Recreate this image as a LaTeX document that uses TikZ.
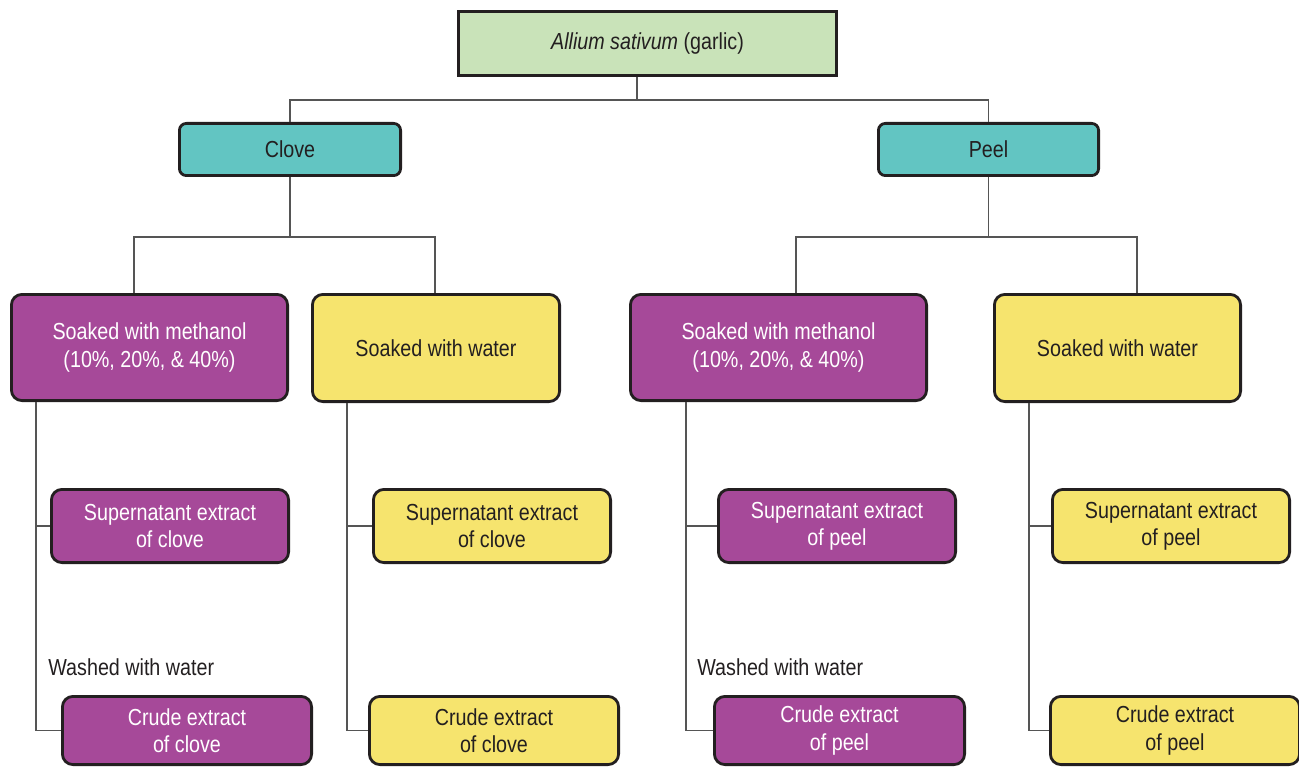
\documentclass[tikz,border=0pt]{standalone}
\usepackage{fontspec}
\setmainfont{Liberation Sans}[FakeStretch=0.85]
\definecolor{cgreen}{HTML}{C9E3B9}
\definecolor{cteal}{HTML}{62C5C2}
\definecolor{cpurple}{HTML}{A64999}
\definecolor{cyellow}{HTML}{F6E46E}
\definecolor{cedge}{HTML}{231F20}
\definecolor{cline}{HTML}{555555}
\tikzset{
  base/.style={draw=cedge, line width=1.6pt, align=center, inner sep=0pt,
    font=\fontsize{13.2}{15.4}\selectfont, text=cedge},
  topbox/.style={base, fill=cgreen},
  partbox/.style={base, fill=cteal, rounded corners=4pt},
  purplebox/.style={base, fill=cpurple, text=white, rounded corners=6pt},
  yellowbox/.style={base, fill=cyellow, rounded corners=6pt},
  conn/.style={draw=cline, line width=0.9pt},
  lbl/.style={font=\fontsize{13.2}{15.4}\selectfont, text=cedge, inner sep=0pt, anchor=west}
}
\newcommand{\bx}[7]{%
  \node[#6, minimum width={(#4-#2)*0.02cm-1.6pt}, minimum height={(#5-#3)*0.02cm-1.6pt}]
    (#1) at ({(#2+#4)/2},{(#3+#5)/2}) {#7};}
\begin{document}
\begin{tikzpicture}[x=0.02cm,y=-0.02cm]
\useasboundingbox (0,0) rectangle (1299,767);
\clip (0,0) rectangle (1299,767);
% boxes
\bx{top}{457}{10}{838}{77}{topbox}{\textit{Allium sativum} (garlic)}
\bx{clove}{178}{122}{402}{177}{partbox}{Clove}
\bx{peel}{877}{122}{1100}{177}{partbox}{Peel}
\bx{lm}{10}{293}{289}{402}{purplebox}{Soaked with methanol\\(10\%, 20\%, \& 40\%)}
\bx{lw}{311}{293}{561}{403}{yellowbox}{Soaked with water}
\bx{rm}{629}{293}{928}{402}{purplebox}{Soaked with methanol\\(10\%, 20\%, \& 40\%)}
\bx{rw}{993}{293}{1242}{403}{yellowbox}{Soaked with water}
\bx{s1}{50}{488}{290}{564}{purplebox}{Supernatant extract\\of clove}
\bx{s2}{372}{488}{612}{564}{yellowbox}{Supernatant extract\\of clove}
\bx{s3}{717}{488}{957}{564}{purplebox}{Supernatant extract\\of peel}
\bx{s4}{1051}{488}{1291}{564}{yellowbox}{Supernatant extract\\of peel}
\bx{c1}{61}{695}{313}{766}{purplebox}{Crude extract\\of clove}
\bx{c2}{368}{695}{620}{766}{yellowbox}{Crude extract\\of clove}
\bx{c3}{713}{695}{966}{766}{purplebox}{Crude extract\\of peel}
\bx{c4}{1049}{695}{1301}{766}{yellowbox}{Crude extract\\of peel}
% labels
\node[lbl] (w1) at (48,667) {Washed with water};
\node[lbl] (w2) at (697,667) {Washed with water};
% junction coordinates
\coordinate (j0) at (637,100);
\coordinate (jl) at (290,237);
\coordinate (jr) at (988,237);
\coordinate (a1) at (134,237);
\coordinate (a2) at (435,237);
\coordinate (a3) at (796,237);
\coordinate (a4) at (1137,237);
\coordinate (v1) at (36,402);
\coordinate (v2) at (347,403);
\coordinate (v3) at (686,402);
\coordinate (v4) at (1029,403);
% connectors
\draw[conn] (j0 |- top.south) -- (j0);
\draw[conn] (clove.north) |- (j0) -| (peel.north);
\draw[conn] (clove.south) -- (clove.south |- jl);
\draw[conn] (peel.south) -- (peel.south |- jr);
\draw[conn] (a1 |- lm.north) -- (a1) -- (a2) -- (a2 |- lw.north);
\draw[conn] (a3 |- rm.north) -- (a3) -- (a4) -- (a4 |- rw.north);
\draw[conn] (v1) |- (c1.west);
\draw[conn] (v1 |- s1.west) -- (s1.west);
\draw[conn] (v2) |- (c2.west);
\draw[conn] (v2 |- s2.west) -- (s2.west);
\draw[conn] (v3) |- (c3.west);
\draw[conn] (v3 |- s3.west) -- (s3.west);
\draw[conn] (v4) |- (c4.west);
\draw[conn] (v4 |- s4.west) -- (s4.west);
\end{tikzpicture}
\end{document}
